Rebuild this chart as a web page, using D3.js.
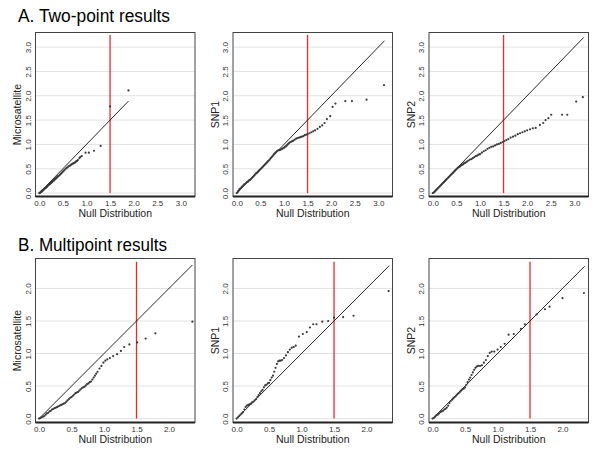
<!DOCTYPE html>
<html>
<head>
<meta charset="utf-8">
<title>QQ plots</title>
<script src="https://d3js.org/d3.v7.min.js"></script>
<style>
  body { margin: 0; background: #fff; }
  svg text { font-family: "Liberation Sans", Arial, sans-serif; }
</style>
</head>
<body>
<svg id="chart"></svg>
<script>
const twoPointMicro = [[0.00,0.00],[0.01,0.00],[0.02,0.01],[0.03,0.02],[0.04,0.03],[0.05,0.03],[0.06,0.05],[0.07,0.05],[0.08,0.06],[0.09,0.07],[0.10,0.08],[0.11,0.09],[0.12,0.10],[0.13,0.11],[0.14,0.11],[0.15,0.12],[0.16,0.13],[0.17,0.14],[0.18,0.16],[0.19,0.16],[0.20,0.17],[0.21,0.18],[0.22,0.19],[0.23,0.19],[0.24,0.20],[0.25,0.21],[0.26,0.22],[0.27,0.23],[0.28,0.24],[0.29,0.25],[0.30,0.25],[0.31,0.27],[0.32,0.28],[0.33,0.28],[0.34,0.29],[0.35,0.30],[0.36,0.31],[0.37,0.32],[0.38,0.33],[0.39,0.34],[0.40,0.35],[0.42,0.36],[0.44,0.38],[0.46,0.40],[0.48,0.42],[0.50,0.44],[0.52,0.46],[0.54,0.48],[0.56,0.50],[0.58,0.52],[0.60,0.53],[0.62,0.55],[0.64,0.56],[0.66,0.57],[0.68,0.59],[0.70,0.60],[0.72,0.61],[0.74,0.62],[0.76,0.63],[0.78,0.65],[0.80,0.66],[0.82,0.68],[0.85,0.72],[0.87,0.74],[0.90,0.76],[0.98,0.83],[1.05,0.83],[1.16,0.87],[1.30,0.97],[1.50,1.78],[1.89,2.11]];
const twoPointSNP1 = [[0.00,0.00],[0.02,0.02],[0.03,0.04],[0.05,0.06],[0.06,0.08],[0.08,0.10],[0.10,0.12],[0.12,0.14],[0.14,0.16],[0.16,0.18],[0.18,0.19],[0.20,0.21],[0.22,0.23],[0.24,0.24],[0.26,0.26],[0.28,0.27],[0.30,0.29],[0.32,0.31],[0.34,0.33],[0.36,0.35],[0.38,0.37],[0.40,0.40],[0.42,0.41],[0.44,0.43],[0.46,0.45],[0.48,0.47],[0.50,0.49],[0.52,0.51],[0.54,0.53],[0.56,0.55],[0.58,0.57],[0.60,0.59],[0.62,0.61],[0.64,0.63],[0.66,0.65],[0.68,0.67],[0.70,0.69],[0.72,0.72],[0.74,0.74],[0.76,0.76],[0.78,0.79],[0.80,0.81],[0.82,0.83],[0.84,0.85],[0.86,0.87],[0.88,0.88],[0.90,0.88],[0.92,0.89],[0.94,0.90],[0.96,0.91],[0.98,0.92],[1.00,0.93],[1.02,0.95],[1.04,0.96],[1.06,0.98],[1.08,1.00],[1.10,1.02],[1.12,1.04],[1.14,1.05],[1.16,1.06],[1.18,1.07],[1.20,1.08],[1.23,1.10],[1.26,1.12],[1.29,1.13],[1.32,1.14],[1.35,1.15],[1.38,1.16],[1.41,1.17],[1.44,1.19],[1.47,1.20],[1.50,1.21],[1.54,1.23],[1.58,1.25],[1.62,1.27],[1.66,1.29],[1.71,1.32],[1.76,1.36],[1.81,1.39],[1.86,1.44],[1.91,1.52],[1.98,1.58],[2.03,1.77],[2.09,1.84],[2.30,1.89],[2.44,1.89],[2.75,1.92],[3.12,2.22]];
const twoPointSNP2 = [[0.00,0.00],[0.02,0.01],[0.04,0.03],[0.06,0.05],[0.08,0.07],[0.10,0.09],[0.12,0.11],[0.14,0.13],[0.16,0.15],[0.18,0.17],[0.20,0.19],[0.22,0.21],[0.24,0.23],[0.26,0.25],[0.28,0.27],[0.30,0.29],[0.32,0.31],[0.34,0.33],[0.36,0.35],[0.38,0.37],[0.40,0.39],[0.42,0.41],[0.44,0.43],[0.46,0.45],[0.48,0.47],[0.50,0.49],[0.52,0.51],[0.54,0.53],[0.56,0.54],[0.58,0.55],[0.60,0.57],[0.62,0.58],[0.64,0.59],[0.66,0.61],[0.68,0.62],[0.70,0.63],[0.73,0.65],[0.76,0.67],[0.79,0.69],[0.82,0.70],[0.85,0.72],[0.88,0.74],[0.91,0.76],[0.94,0.77],[0.97,0.79],[1.00,0.80],[1.04,0.83],[1.08,0.86],[1.12,0.88],[1.16,0.91],[1.20,0.93],[1.24,0.95],[1.28,0.96],[1.32,0.98],[1.36,1.00],[1.40,1.01],[1.44,1.03],[1.48,1.05],[1.52,1.07],[1.56,1.09],[1.60,1.11],[1.65,1.14],[1.70,1.16],[1.75,1.18],[1.80,1.21],[1.85,1.23],[1.90,1.25],[1.95,1.27],[2.00,1.29],[2.06,1.31],[2.12,1.33],[2.18,1.34],[2.27,1.40],[2.34,1.44],[2.39,1.50],[2.45,1.54],[2.51,1.61],[2.74,1.61],[2.85,1.61],[3.04,1.88],[3.18,1.97]];
const multiPointMicro = [[0.00,0.00],[0.02,0.01],[0.04,0.02],[0.06,0.03],[0.08,0.04],[0.10,0.06],[0.12,0.08],[0.14,0.09],[0.16,0.11],[0.18,0.12],[0.20,0.14],[0.22,0.15],[0.24,0.16],[0.26,0.17],[0.28,0.18],[0.30,0.19],[0.32,0.20],[0.34,0.21],[0.36,0.22],[0.38,0.23],[0.40,0.24],[0.42,0.26],[0.44,0.28],[0.46,0.30],[0.48,0.32],[0.50,0.33],[0.52,0.35],[0.54,0.37],[0.56,0.39],[0.58,0.40],[0.60,0.41],[0.62,0.43],[0.64,0.45],[0.66,0.47],[0.68,0.48],[0.70,0.49],[0.72,0.51],[0.74,0.53],[0.76,0.54],[0.78,0.56],[0.80,0.57],[0.82,0.60],[0.84,0.63],[0.86,0.66],[0.88,0.69],[0.90,0.72],[0.93,0.77],[0.96,0.81],[0.99,0.86],[1.02,0.89],[1.05,0.91],[1.09,0.93],[1.14,0.96],[1.20,0.99],[1.26,1.04],[1.31,1.10],[1.39,1.14],[1.51,1.17],[1.64,1.23],[1.79,1.31],[2.36,1.49]];
const multiPointSNP1 = [[0.00,0.00],[0.02,0.02],[0.04,0.04],[0.06,0.06],[0.08,0.08],[0.10,0.10],[0.12,0.14],[0.14,0.18],[0.16,0.20],[0.18,0.21],[0.20,0.22],[0.22,0.23],[0.24,0.25],[0.26,0.26],[0.28,0.28],[0.30,0.30],[0.32,0.33],[0.34,0.36],[0.36,0.39],[0.38,0.42],[0.40,0.44],[0.42,0.48],[0.44,0.51],[0.46,0.52],[0.48,0.54],[0.50,0.55],[0.52,0.59],[0.54,0.63],[0.56,0.66],[0.58,0.72],[0.60,0.78],[0.62,0.84],[0.64,0.88],[0.66,0.89],[0.68,0.89],[0.70,0.90],[0.73,0.93],[0.76,0.97],[0.79,1.02],[0.82,1.06],[0.85,1.09],[0.88,1.10],[0.91,1.12],[0.96,1.26],[1.02,1.30],[1.08,1.33],[1.13,1.40],[1.18,1.45],[1.23,1.45],[1.32,1.49],[1.41,1.50],[1.50,1.55],[1.64,1.56],[1.80,1.58],[2.34,1.96]];
const multiPointSNP2 = [[0.00,0.00],[0.02,0.01],[0.04,0.03],[0.06,0.05],[0.08,0.06],[0.10,0.08],[0.12,0.10],[0.14,0.11],[0.16,0.12],[0.18,0.14],[0.20,0.15],[0.22,0.17],[0.24,0.20],[0.26,0.24],[0.28,0.27],[0.30,0.29],[0.32,0.31],[0.34,0.33],[0.36,0.35],[0.38,0.37],[0.40,0.39],[0.42,0.41],[0.44,0.43],[0.46,0.45],[0.48,0.46],[0.50,0.48],[0.52,0.52],[0.54,0.56],[0.56,0.60],[0.58,0.63],[0.60,0.67],[0.62,0.71],[0.64,0.75],[0.66,0.78],[0.68,0.80],[0.70,0.81],[0.73,0.81],[0.76,0.82],[0.79,0.86],[0.82,0.90],[0.85,0.96],[0.88,1.01],[0.91,1.03],[0.95,1.03],[1.00,1.06],[1.05,1.10],[1.11,1.15],[1.17,1.29],[1.25,1.30],[1.36,1.38],[1.42,1.45],[1.60,1.60],[1.73,1.68],[1.80,1.72],[2.00,1.85],[2.33,1.93]];

const rowTitles = ["A. Two-point results", "B. Multipoint results"];
const markerNames = ["Microsatellite", "SNP1", "SNP2"];
const rowTicks = [[0, 0.5, 1, 1.5, 2, 2.5, 3], [0, 0.5, 1, 1.5, 2]];
const rowXDomain = [[-0.08, 3.3], [-0.055, 2.4]];
const rowYDomain = [[-0.07, 3.3], [-0.06, 2.46]];
const threshold = 1.5;
const thresholdTop = [3.25, 2.41];
const diagonalEnd = [[1.89, 3.13, 3.2], [2.36, 2.35, 2.34]];
const panelData = [
  [twoPointMicro, twoPointSNP1, twoPointSNP2],
  [multiPointMicro, multiPointSNP1, multiPointSNP2]
];

const width = 600;
const height = 457;
const colLeft = [35.5, 233, 429];
const rowTop = [32.5, 258.5];
const titleBaseline = [22, 251];
const titleWidth = [152, 149];
const plotW = 159.5;
const plotH = 164;

const svg = d3.select("#chart")
  .attr("width", width)
  .attr("height", height);

svg.append("rect").attr("width", width).attr("height", height).attr("fill", "#fff");

const fmt = d3.format(".1f");

rowTitles.forEach(function(title, r) {
  // row heading (narrow, as in the original figure)
  svg.append("text")
    .attr("x", 18)
    .attr("y", titleBaseline[r])
    .attr("font-size", 17.5)
    .attr("fill", "#000")
    .attr("textLength", titleWidth[r])
    .attr("lengthAdjust", "spacingAndGlyphs")
    .text(title);

  markerNames.forEach(function(name, c) {
    const left = colLeft[c];
    const top = rowTop[r];
    const x = d3.scaleLinear().domain(rowXDomain[r]).range([left, left + plotW]);
    const y = d3.scaleLinear().domain(rowYDomain[r]).range([top + plotH, top]);
    const g = svg.append("g");

    // horizontal grid
    g.selectAll(".grid")
      .data(rowTicks[r])
      .enter()
      .append("line")
      .attr("x1", left)
      .attr("x2", left + plotW)
      .attr("y1", d => y(d))
      .attr("y2", d => y(d))
      .attr("stroke", "#e2e2e2")
      .attr("stroke-width", 1);

    // threshold line
    g.append("line")
      .attr("x1", x(threshold))
      .attr("x2", x(threshold))
      .attr("y1", y(0))
      .attr("y2", y(thresholdTop[r]))
      .attr("stroke", "#ee2a2a")
      .attr("stroke-width", 1.3);

    // identity line
    g.append("line")
      .attr("x1", x(0))
      .attr("y1", y(0))
      .attr("x2", x(diagonalEnd[r][c]))
      .attr("y2", y(diagonalEnd[r][c]))
      .attr("stroke", "#111")
      .attr("stroke-width", 0.9);

    // quantile points
    g.selectAll(".pt")
      .data(panelData[r][c])
      .enter()
      .append("circle")
      .attr("cx", d => x(d[0]))
      .attr("cy", d => y(d[1]))
      .attr("r", 1.1)
      .attr("fill", "#3a3a3a");

    // frame
    g.append("rect")
      .attr("x", left)
      .attr("y", top)
      .attr("width", plotW)
      .attr("height", plotH)
      .attr("fill", "none")
      .attr("stroke", "#444")
      .attr("stroke-width", 1);
    g.append("line")
      .attr("x1", left)
      .attr("x2", left + plotW)
      .attr("y1", top + plotH)
      .attr("y2", top + plotH)
      .attr("stroke", "#222")
      .attr("stroke-width", 1.8);

    // x axis labels
    const xAxis = d3.axisBottom(x).tickValues(rowTicks[r]).tickSize(0).tickPadding(4).tickFormat(fmt);
    const xg = g.append("g")
      .attr("transform", "translate(0," + (top + plotH) + ")")
      .call(xAxis);
    xg.select(".domain").remove();
    xg.selectAll("text").attr("font-size", 8).attr("fill", "#333");

    // y axis labels, rotated around each tick origin
    const yAxis = d3.axisLeft(y).tickValues(rowTicks[r]).tickSize(0).tickPadding(0).tickFormat(fmt);
    const yg = g.append("g")
      .attr("transform", "translate(" + (left - 7.5) + ",0)")
      .call(yAxis);
    yg.select(".domain").remove();
    yg.selectAll("text")
      .attr("x", 0)
      .attr("dy", "0.35em")
      .attr("text-anchor", "middle")
      .attr("transform", "rotate(-90)")
      .attr("font-size", 8)
      .attr("fill", "#333");

    // axis titles
    g.append("text")
      .attr("x", left + plotW / 2)
      .attr("y", top + plotH + 20.5)
      .attr("text-anchor", "middle")
      .attr("font-size", 10.5)
      .attr("fill", "#222")
      .text("Null Distribution");
    g.append("text")
      .attr("transform", "translate(" + (left - 14.5) + "," + (top + plotH / 2) + ") rotate(-90)")
      .attr("text-anchor", "middle")
      .attr("font-size", 10.5)
      .attr("fill", "#222")
      .text(name);
  });
});
</script>
</body>
</html>
